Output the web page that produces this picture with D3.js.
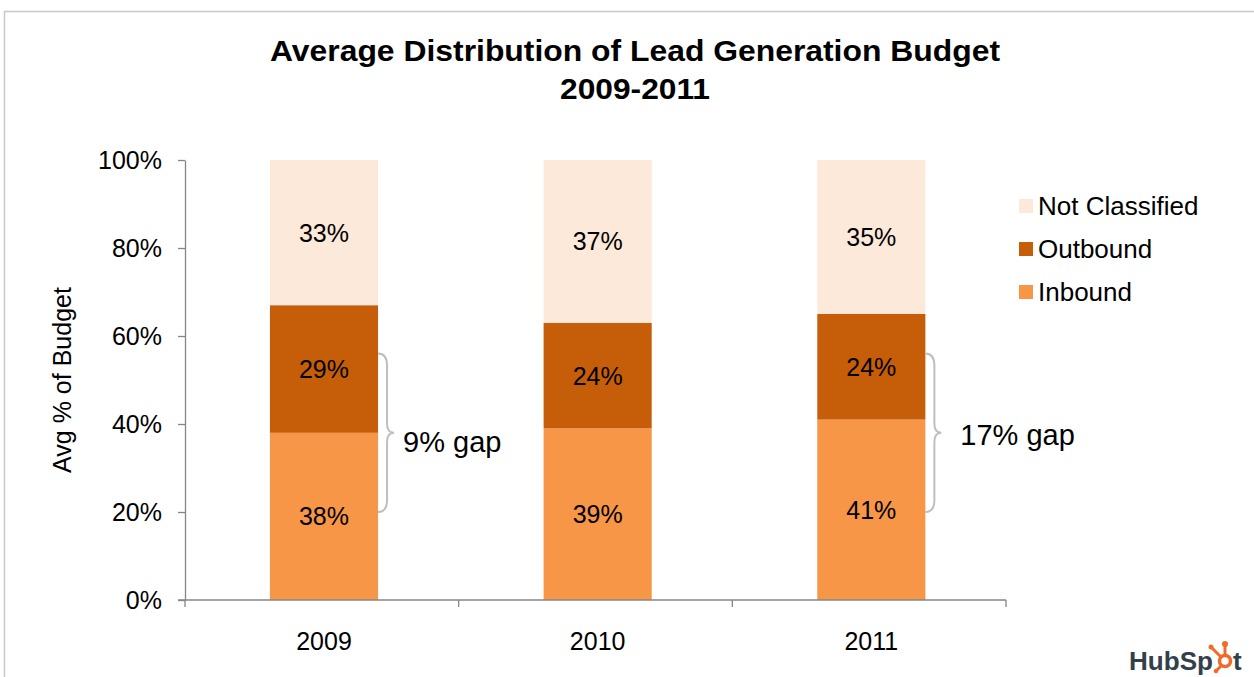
<!DOCTYPE html>
<html>
<head>
<meta charset="utf-8">
<script src="https://cdn.jsdelivr.net/npm/d3@7"></script>
<style>
  body { margin: 0; background: #fff; }
  text { font-family: Arial, "Liberation Sans", sans-serif; }
</style>
</head>
<body>
<script>
// chart data
const years = ["2009", "2010", "2011"];
const seriesNames = ["Inbound", "Outbound", "Not Classified"];
const inbound = [38, 39, 41];
const outbound = [29, 24, 24];
const notClassified = [33, 37, 35];
const yTicks = [0, 20, 40, 60, 80, 100];
// gap annotations (bracket from..to in %, label level in %)
const gapYears = ["2009", "2011"];
const gapLabels = ["9% gap", "17% gap"];
const gapFrom = [20, 20];
const gapTo = [56, 56];
const gapLabelAt = [36, 37.5];

const colors = { "Inbound": "#f79646", "Outbound": "#c65e09", "Not Classified": "#fde9d9" };

const width = 1254, height = 677;
const svg = d3.select("body").append("svg")
  .attr("width", width)
  .attr("height", height);

// outer frame (top + left edges visible)
svg.append("path")
  .attr("d", "M4.5,677 L4.5,11.5 L1254,11.5")
  .attr("fill", "none")
  .attr("stroke", "#c8c8c8")
  .attr("stroke-width", 1.5);

// title
svg.append("text")
  .attr("x", 635).attr("y", 61)
  .attr("text-anchor", "middle")
  .attr("font-weight", "bold")
  .attr("font-size", 29)
  .attr("textLength", 730)
  .attr("lengthAdjust", "spacingAndGlyphs")
  .attr("fill", "#000")
  .text("Average Distribution of Lead Generation Budget");
svg.append("text")
  .attr("x", 635).attr("y", 99)
  .attr("text-anchor", "middle")
  .attr("font-weight", "bold")
  .attr("font-size", 29)
  .attr("textLength", 150)
  .attr("lengthAdjust", "spacingAndGlyphs")
  .attr("fill", "#000")
  .text("2009-2011");

const plotLeft = 185, plotRight = 1006, plotTop = 160, plotBottom = 600;

const x = d3.scaleBand()
  .domain(years)
  .range([plotLeft, plotRight])
  .paddingInner(0.605)
  .paddingOuter(0.3025)
  .align(0.513);

const y = d3.scaleLinear().domain([0, 100]).range([plotBottom, plotTop]);

// stacked data
const rows = years.map((yr, i) => ({
  year: yr,
  "Inbound": inbound[i],
  "Outbound": outbound[i],
  "Not Classified": notClassified[i]
}));
const stacked = d3.stack().keys(seriesNames)(rows);

const layers = svg.selectAll(".layer").data(stacked)
  .enter()
    .append("g")
    .attr("class", "layer")
    .attr("fill", d => colors[d.key]);

layers.selectAll("rect").data(d => d)
  .enter()
    .append("rect")
    .attr("x", d => x(d.data.year))
    .attr("width", x.bandwidth())
    .attr("y", d => y(d[1]))
    .attr("height", d => y(d[0]) - y(d[1]));

layers.selectAll("text").data(d => d)
  .enter()
    .append("text")
    .attr("x", d => x(d.data.year) + x.bandwidth() / 2)
    .attr("y", d => (y(d[0]) + y(d[1])) / 2)
    .attr("dy", "0.36em")
    .attr("text-anchor", "middle")
    .attr("font-size", 25)
    .attr("fill", "#000")
    .text(d => (d[1] - d[0]) + "%");

// y axis
const yAxis = svg.append("g")
  .attr("transform", "translate(" + plotLeft + ",0)")
  .call(d3.axisLeft(y).tickValues(yTicks).tickFormat(d => d + "%").tickSizeInner(7).tickSizeOuter(0).tickPadding(16));
yAxis.select(".domain").attr("stroke", "#868686").attr("stroke-width", 1.3);
yAxis.selectAll(".tick line").attr("stroke", "#868686").attr("stroke-width", 1.3);
yAxis.selectAll(".tick text")
  .attr("font-size", 25)
  .attr("font-family", "Arial, 'Liberation Sans', sans-serif")
  .attr("fill", "#000");

// x axis with ticks at category boundaries
const xAxisG = svg.append("g").attr("transform", "translate(0," + plotBottom + ")");
xAxisG.append("line")
  .attr("x1", plotLeft - 7).attr("x2", plotRight)
  .attr("stroke", "#868686").attr("stroke-width", 1.3);
const bounds = d3.range(years.length + 1).map(i => plotLeft + i * (plotRight - plotLeft) / years.length);
xAxisG.selectAll(".xtick").data(bounds)
  .enter()
    .append("line")
    .attr("class", "xtick")
    .attr("x1", d => d).attr("x2", d => d)
    .attr("y1", 0).attr("y2", 7)
    .attr("stroke", "#868686").attr("stroke-width", 1.3);
xAxisG.selectAll(".xlabel").data(years)
  .enter()
    .append("text")
    .attr("class", "xlabel")
    .attr("x", d => x(d) + x.bandwidth() / 2)
    .attr("y", 50)
    .attr("text-anchor", "middle")
    .attr("font-size", 25)
    .attr("fill", "#000")
    .text(d => d);

// y axis title
svg.append("text")
  .attr("transform", "translate(71," + ((plotTop + plotBottom) / 2) + ") rotate(-90)")
  .attr("text-anchor", "middle")
  .attr("font-size", 25)
  .attr("fill", "#000")
  .text("Avg % of Budget");

// legend (reverse order, top to bottom)
const legendItems = seriesNames.slice().reverse();
const legend = svg.selectAll(".legend").data(legendItems)
  .enter()
    .append("g")
    .attr("class", "legend")
    .attr("transform", (d, i) => "translate(1019," + (206 + i * 43) + ")");
legend.append("rect")
  .attr("x", 0).attr("y", -7)
  .attr("width", 14).attr("height", 14)
  .attr("fill", d => colors[d]);
legend.append("text")
  .attr("x", 19)
  .attr("dy", "0.36em")
  .attr("font-size", 26)
  .attr("fill", "#000")
  .text(d => d);

// gap brackets
function bracketPath(x0, y0, y1, w) {
  const ym = (y0 + y1) / 2;
  const r = 6;
  return "M" + x0 + "," + y0 +
    " Q" + (x0 + w - r) + "," + y0 + " " + (x0 + w - r) + "," + (y0 + r * 2) +
    " L" + (x0 + w - r) + "," + (ym - r * 1.5) +
    " Q" + (x0 + w - r) + "," + ym + " " + (x0 + w + 1) + "," + ym +
    " Q" + (x0 + w - r) + "," + ym + " " + (x0 + w - r) + "," + (ym + r * 1.5) +
    " L" + (x0 + w - r) + "," + (y1 - r * 2) +
    " Q" + (x0 + w - r) + "," + y1 + " " + x0 + "," + y1;
}
gapYears.forEach((yr, i) => {
  const x0 = x(yr) + x.bandwidth();
  svg.append("path")
    .attr("d", bracketPath(x0, y(gapTo[i]), y(gapFrom[i]), 15))
    .attr("fill", "none")
    .attr("stroke", "#bfbfbf")
    .attr("stroke-width", 2);
  svg.append("text")
    .attr("x", x0 + 25 + (yr === "2011" ? 10 : 0))
    .attr("y", y(gapLabelAt[i]))
    .attr("dy", "0.36em")
    .attr("font-size", 29)
    .attr("fill", "#000")
    .text(gapLabels[i]);
});

// HubSpot logo
const logo = svg.append("g").attr("transform", "translate(1129,670)");
logo.append("text")
  .attr("x", 0).attr("y", 0)
  .attr("font-size", 26)
  .attr("font-weight", "bold")
  .attr("fill", "#33404b")
  .attr("textLength", 84)
  .attr("lengthAdjust", "spacingAndGlyphs")
  .text("HubSp");
const spr = logo.append("g").attr("transform", "translate(96,-9)").attr("stroke", "#f26a2a").attr("fill", "none");
spr.append("circle").attr("r", 5.5).attr("stroke-width", 3.5);
spr.append("line").attr("x1", 0).attr("y1", -6).attr("x2", 0).attr("y2", -15).attr("stroke-width", 3);
spr.append("line").attr("x1", -4).attr("y1", -4).attr("x2", -13).attr("y2", -13).attr("stroke-width", 3);
spr.append("line").attr("x1", -3).attr("y1", 4).attr("x2", -8).attr("y2", 9).attr("stroke-width", 3);
spr.append("circle").attr("cx", 0).attr("cy", -17).attr("r", 3).attr("fill", "#f26a2a").attr("stroke", "none");
spr.append("circle").attr("cx", -14).attr("cy", -14).attr("r", 2.5).attr("fill", "#f26a2a").attr("stroke", "none");
spr.append("circle").attr("cx", -9).attr("cy", 10).attr("r", 2.3).attr("fill", "#f26a2a").attr("stroke", "none");
logo.append("text")
  .attr("x", 104).attr("y", 0)
  .attr("font-size", 26)
  .attr("font-weight", "bold")
  .attr("fill", "#33404b")
  .text("t");
</script>
</body>
</html>
